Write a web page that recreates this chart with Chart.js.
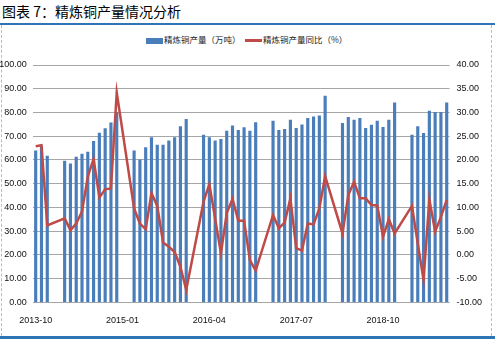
<!DOCTYPE html>
<html>
<head>
<meta charset="utf-8">
<script src="https://cdn.jsdelivr.net/npm/chart.js@4.4.0/dist/chart.umd.min.js"></script>
<style>
  html, body { margin: 0; padding: 0; background: #fff; }
  body { width: 495px; height: 339px; position: relative; overflow: hidden; font-family: "Noto Sans CJK SC", sans-serif; }
  #title { position: absolute; left: 2px; top: 2px; font-size: 14px; color: #000; line-height: 18px; }
  #topRule { position: absolute; left: 0; top: 23px; width: 495px; height: 2px; background: #2e75b6; }
  #bottomRule { position: absolute; left: 0; top: 336px; width: 495px; height: 3px; background: #2e75b6; }
  #frame { position: absolute; left: 1px; top: 25px; width: 491px; height: 311px; border-left: 1px dashed #bbb; border-right: 1px dashed #bbb; box-sizing: border-box; }
  #legend { position: absolute; top: 33px; left: 0; width: 495px; font-size: 8.5px; color: #222; }
  .item { position: absolute; top: 0; line-height: 12px; white-space: nowrap; }
  .sw { display: inline-block; vertical-align: middle; margin-right: 1px; }
  #wrap { position: absolute; left: 0; top: 0; width: 495px; height: 339px; }
</style>
</head>
<body>
<div id="title">图表 7：精炼铜产量情况分析</div>
<div id="topRule"></div>
<div id="frame"></div>
<div id="legend">
  <div class="item" style="left:146px"><span class="sw" style="width:17px;height:6px;background:#4a7ebb"></span>精炼铜产量（万吨）</div>
  <div class="item" style="left:245px"><span class="sw" style="width:17px;height:3px;background:#be4b48"></span>精炼铜产量同比（%）</div>
</div>
<div id="wrap"><canvas id="chart"></canvas></div>
<div id="bottomRule"></div>
<script>
const months = [
    '2013-10', '2013-11', '2013-12',
    '2014-01', '2014-02', '2014-03', '2014-04', '2014-05', '2014-06', '2014-07', '2014-08', '2014-09', '2014-10', '2014-11', '2014-12',
    '2015-01', '2015-02', '2015-03', '2015-04', '2015-05', '2015-06', '2015-07', '2015-08', '2015-09', '2015-10', '2015-11', '2015-12',
    '2016-01', '2016-02', '2016-03', '2016-04', '2016-05', '2016-06', '2016-07', '2016-08', '2016-09', '2016-10', '2016-11', '2016-12',
    '2017-01', '2017-02', '2017-03', '2017-04', '2017-05', '2017-06', '2017-07', '2017-08', '2017-09', '2017-10', '2017-11', '2017-12',
    '2018-01', '2018-02', '2018-03', '2018-04', '2018-05', '2018-06', '2018-07', '2018-08', '2018-09', '2018-10', '2018-11', '2018-12',
    '2019-01', '2019-02', '2019-03', '2019-04', '2019-05', '2019-06', '2019-07', '2019-08', '2019-09'
];

// 精炼铜产量（万吨），1-2月无单月数据
const output = [
    63.8, 65.5, 61.6,
    null, null, 59.5, 58.3, 61.2, 62.5, 63.3, 67.8, 71.3, 73.2, 75.6, 80.0,
    null, null, 63.8, 60.0, 65.2, 69.4, 66.3, 66.3, 68.0, 69.4, 74.0, 77.1,
    null, null, 70.5, 69.4, 68.0, 68.7, 72.2, 74.4, 72.5, 73.6, 72.2, 75.7,
    null, null, 76.4, 72.5, 72.9, 76.8, 73.3, 74.8, 77.5, 78.2, 78.6, 86.9,
    null, null, 75.4, 78.0, 76.8, 77.5, 73.3, 74.7, 76.4, 73.7, 76.8, 84.1,
    null, null, 70.5, 74.0, 71.2, 80.6, 80.1, 80.1, 84.1
];

// 精炼铜产量同比（%）
const yoy = [
    22.9, 23.1, 6.2,
    null, null, 7.7, 5.2, 6.6, 9.1, 16.5, 20.2, 12.1, 13.8, 14.0, 34.2,
    null, null, 9.8, 6.6, 5.4, 13.0, 10.3, 2.6, 1.7, 0.6, -2.5, -7.4,
    null, null, 11.2, 14.9, 7.6, 0.3, 8.8, 11.8, 7.2, 7.2, -1.1, -3.3,
    null, null, 8.4, 5.6, 6.8, 11.9, 1.4, 0.9, 6.6, 6.4, 9.8, 16.6,
    null, null, 4.5, 12.6, 15.4, 11.9, 11.9, 10.5, 10.4, 3.8, 7.5, 4.5,
    null, null, 10.3, 2.4, -5.3, 11.7, 4.9, 8.0, 11.6
];

const leftTicks = [0, 10, 20, 30, 40, 50, 60, 70, 80, 90, 100];
const rightTicks = [-10, -5, 0, 5, 10, 15, 20, 25, 30, 35, 40];

const tickFont = { family: 'Liberation Sans', size: 9 };

const ctx = document.getElementById('chart').getContext('2d');
const chart = new Chart(ctx, {
    data: {
        labels: months,
        datasets: [
            {
                type: 'line',
                label: '精炼铜产量同比（%）',
                data: yoy,
                yAxisID: 'y1',
                borderColor: '#be4b48',
                borderWidth: 2.5,
                pointRadius: 0,
                tension: 0,
                spanGaps: true,
                order: 0
            },
            {
                type: 'bar',
                label: '精炼铜产量（万吨）',
                data: output,
                yAxisID: 'y',
                backgroundColor: '#4a7ebb',
                barThickness: 2.5,
                order: 1
            }
        ]
    },
    options: {
        responsive: true,
        maintainAspectRatio: false,
        animation: false,
        layout: { padding: { top: 65, bottom: 0, left: 0, right: 0 } },
        plugins: {
            legend: { display: false },
            tooltip: { enabled: false }
        },
        scales: {
            x: {
                grid: { display: false },
                border: { display: false },
                ticks: {
                    autoSkip: false,
                    maxRotation: 0,
                    padding: 5,
                    color: '#111',
                    font: tickFont,
                    callback: function(value, index) {
                        return index % 15 === 0 ? months[index] : '';
                    }
                },
                afterFit: function(axis) { axis.height = 36.7; }
            },
            y: {
                position: 'left',
                min: 0,
                max: 100,
                afterBuildTicks: function(axis) { axis.ticks = leftTicks.map(v => ({ value: v })); },
                ticks: {
                    padding: 6,
                    color: '#111',
                    font: tickFont,
                    callback: v => v.toFixed(2)
                },
                grid: { color: '#a6a6a6', drawTicks: false, lineWidth: 1 },
                border: { display: false },
                afterFit: function(axis) { axis.width = 32.8; }
            },
            y1: {
                position: 'right',
                min: -10,
                max: 40,
                afterBuildTicks: function(axis) { axis.ticks = rightTicks.map(v => ({ value: v })); },
                ticks: {
                    padding: 7,
                    color: '#111',
                    font: tickFont,
                    callback: v => v.toFixed(2)
                },
                grid: { display: false, drawTicks: false },
                border: { display: false },
                afterFit: function(axis) { axis.width = 45.4; }
            }
        }
    }
});
</script>
</body>
</html>
